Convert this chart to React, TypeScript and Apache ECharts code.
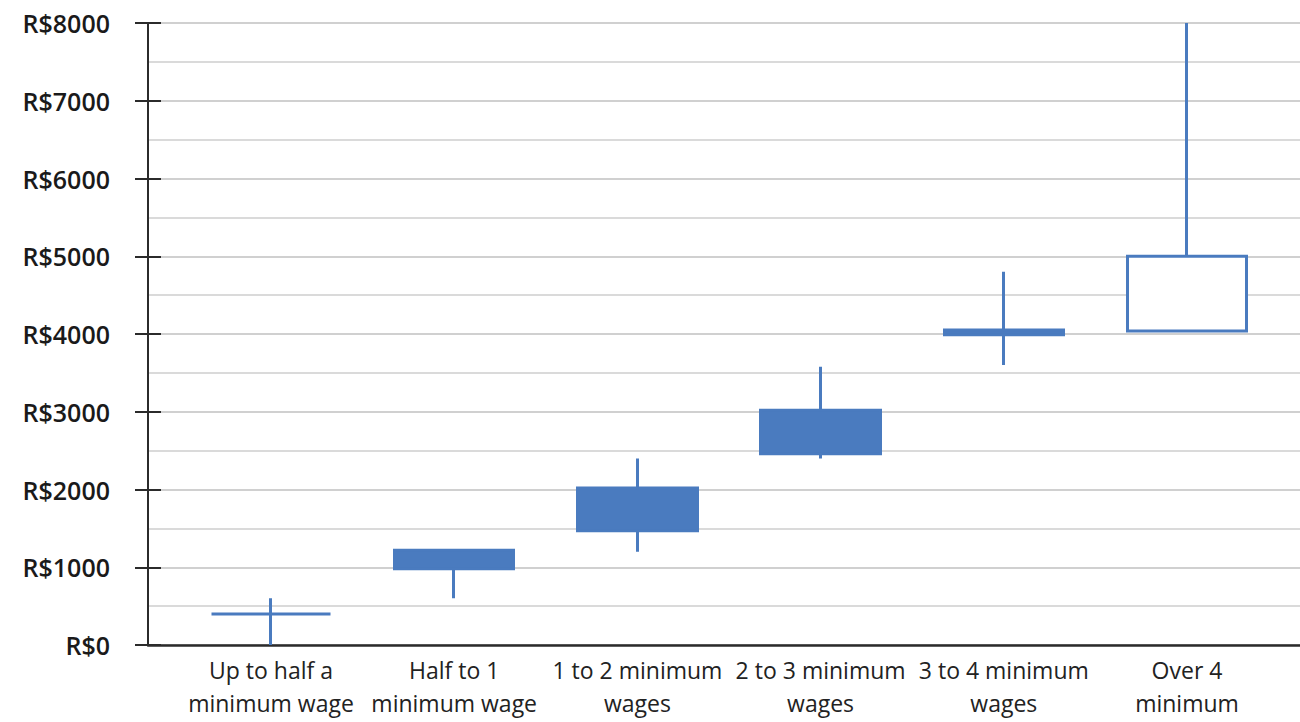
import React, { useEffect, useRef } from "react";
import * as echarts from "echarts";

const categories = [
  "Up to half a\nminimum wage",
  "Half to 1\nminimum wage",
  "1 to 2 minimum\nwages",
  "2 to 3 minimum\nwages",
  "3 to 4 minimum\nwages",
  "Over 4\nminimum",
];
const openVals = [400, 1220, 2020, 3020, 4050, 4040];
const closeVals = [400, 980, 1470, 2460, 3990, 5000];
const lowVals = [0, 600, 1200, 2400, 3600, 4040];
const highVals = [600, 1220, 2400, 3580, 4800, 8000];
const yMin = 0;
const yMax = 8000;
const yInterval = 1000;

const BLUE = "#4a7bbf";
const DARK = "#2b2b2b";

export default function App() {
  const ref = useRef<HTMLDivElement>(null);
  useEffect(() => {
    if (!ref.current) return;
    const chart = echarts.init(ref.current, null, { renderer: "svg" });
    const data = categories.map((_, i) => [openVals[i], closeVals[i], lowVals[i], highVals[i]]);
    const plotTop = 23;
    const plotBottom = 722 - 645;
    chart.setOption({
      animation: false,
      backgroundColor: "#ffffff",
      grid: [
        { left: 148, right: 0, top: plotTop, bottom: plotBottom },
        { left: 179.4, width: 1099.2, top: plotTop, bottom: plotBottom },
      ],
      xAxis: [
        {
          type: "value",
          gridIndex: 0,
          min: 0,
          max: 1,
          axisLine: { show: true, lineStyle: { color: DARK, width: 2.5 } },
          axisTick: { show: false },
          axisLabel: { show: false },
          splitLine: { show: false },
        },
        {
          type: "category",
          gridIndex: 1,
          data: categories,
          boundaryGap: true,
          axisLine: { show: false },
          axisTick: { show: false },
          axisLabel: {
            show: true,
            interval: 0,
            margin: 8,
            color: "#222",
            fontFamily: "Open Sans",
            fontSize: 23,
            lineHeight: 33,
          },
          splitLine: { show: false },
        },
      ],
      yAxis: [
        {
          type: "value",
          gridIndex: 0,
          position: "left",
          min: yMin,
          max: yMax,
          interval: yInterval,
          axisLine: { show: true, lineStyle: { color: DARK, width: 2 } },
          axisTick: { show: true, inside: false, length: 13, lineStyle: { color: DARK, width: 2 } },
          axisLabel: {
            show: true,
            margin: 38,
            color: "#1a1a1a",
            fontFamily: "Open Sans",
            fontWeight: 600,
            fontSize: 25,
            formatter: (v: number) => "R$" + v,
          },
          splitLine: { show: true, lineStyle: { color: "#d0d0d0", width: 2 } },
          minorTick: { show: false, splitNumber: 2 },
          minorSplitLine: { show: true, lineStyle: { color: "#dadada", width: 2 } },
        },
        {
          type: "value",
          gridIndex: 0,
          position: "left",
          offset: 0,
          min: yMin,
          max: yMax,
          interval: yInterval,
          axisLine: { show: false },
          axisTick: { show: true, inside: true, length: 13, lineStyle: { color: DARK, width: 2 } },
          axisLabel: { show: false },
          splitLine: { show: false },
        },
        {
          type: "value",
          gridIndex: 1,
          min: yMin,
          max: yMax,
          interval: yInterval,
          show: false,
        },
      ],
      series: [
        {
          type: "candlestick",
          xAxisIndex: 1,
          yAxisIndex: 2,
          data,
          barWidth: 120,
          itemStyle: {
            color: "#ffffff",
            color0: BLUE,
            borderColor: BLUE,
            borderColor0: BLUE,
            borderColorDoji: BLUE,
            borderWidth: 3,
          },
        },
      ],
    });
    return () => chart.dispose();
  }, []);
  return (
    <div
      ref={ref}
      style={{ position: "fixed", left: 0, top: 0, width: 1300, height: 722, background: "#fff" }}
    />
  );
}
